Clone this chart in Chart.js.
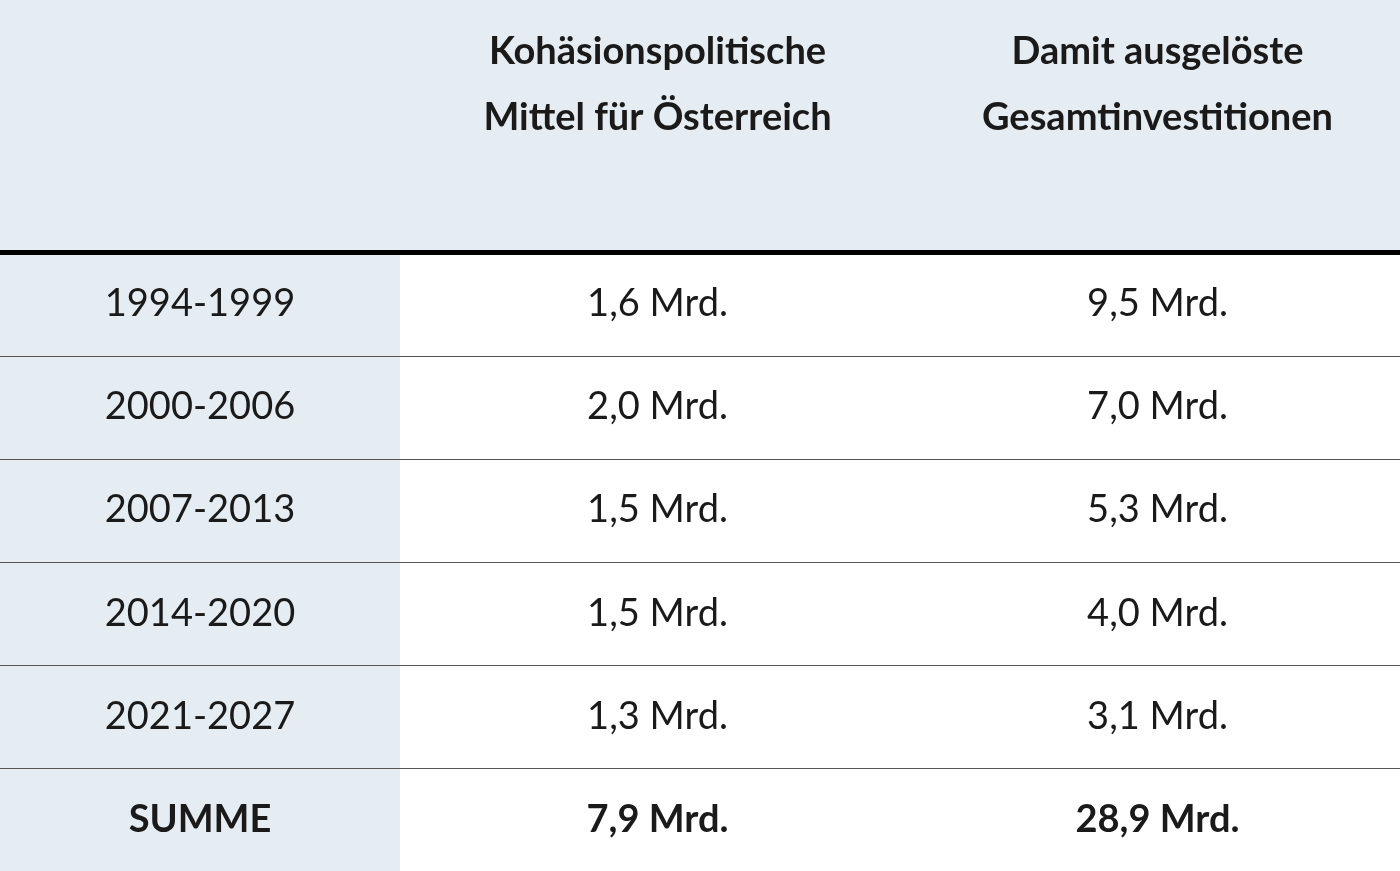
<!DOCTYPE html>
<html><head><meta charset="utf-8">
<script src="https://cdn.jsdelivr.net/npm/chart.js@4"></script>
<style>html,body{margin:0;padding:0;background:#fff}#wrap{width:1400px;height:871px}</style>
</head><body><div id="wrap"><canvas id="c"></canvas></div>
<script>
// table content
var headers = [["Kohäsionspolitische", "Mittel für Österreich"], ["Damit ausgelöste", "Gesamtinvestitionen"]];
var periods = ["1994-1999", "2000-2006", "2007-2013", "2014-2020", "2021-2027", "SUMME"];
var funds = ["1,6 Mrd.", "2,0 Mrd.", "1,5 Mrd.", "1,5 Mrd.", "1,3 Mrd.", "7,9 Mrd."];
var investments = ["9,5 Mrd.", "7,0 Mrd.", "5,3 Mrd.", "4,0 Mrd.", "3,1 Mrd.", "28,9 Mrd."];

// column edges and header height in scale units
var colEdges = [0, 0.8, 1.83, 2.8];
var headerRows = 2.45;

var font = "Lato, 'Open Sans', sans-serif";

var tablePlugin = {
  id: "table",
  beforeDraw: function(chart) {
    var ctx = chart.ctx, x = chart.scales.x, y = chart.scales.y;
    var px = function(v){ return x.getPixelForValue(v); };
    var py = function(v){ return y.getPixelForValue(v); };
    var total = headerRows + periods.length;
    ctx.save();
    ctx.fillStyle = "#e5edf2";
    ctx.fillRect(px(0), py(0), px(colEdges[3]) - px(0), py(headerRows) - py(0));
    ctx.fillRect(px(0), py(headerRows), px(colEdges[1]) - px(0), py(total) - py(headerRows));

    ctx.fillStyle = "#1a1a1a";
    ctx.textAlign = "center";
    ctx.textBaseline = "middle";
    ctx.font = "bold 38px " + font;
    headers.forEach(function(h, i){
      var cx = (px(colEdges[i+1]) + px(colEdges[i+2])) / 2;
      ctx.fillText(h[0], cx, py(0.5));
      ctx.fillText(h[1], cx, py(1.14));
    });

    periods.forEach(function(p, i){
      var cy = py(headerRows + i + 0.5);
      var bold = i === periods.length - 1;
      ctx.font = (bold ? "bold " : "") + "38px " + font;
      [p, funds[i], investments[i]].forEach(function(t, j){
        ctx.fillText(t, (px(colEdges[j]) + px(colEdges[j+1])) / 2, cy);
      });
      if (i > 0) {
        ctx.strokeStyle = "#555";
        ctx.lineWidth = 1;
        ctx.beginPath();
        ctx.moveTo(px(0), Math.round(py(headerRows + i)) + 0.5);
        ctx.lineTo(px(colEdges[3]), Math.round(py(headerRows + i)) + 0.5);
        ctx.stroke();
      }
    });

    ctx.strokeStyle = "#000";
    ctx.lineWidth = 5;
    ctx.beginPath();
    ctx.moveTo(px(0), py(headerRows));
    ctx.lineTo(px(colEdges[3]), py(headerRows));
    ctx.stroke();
    ctx.restore();
  }
};

new Chart(document.getElementById("c"), {
  type: "scatter",
  data: { datasets: [{ data: [] }] },
  options: {
    responsive: true,
    maintainAspectRatio: false,
    animation: false,
    layout: { padding: 0 },
    plugins: { legend: { display: false }, tooltip: { enabled: false } },
    scales: {
      x: { type: "linear", min: 0, max: colEdges[3], display: false },
      y: { type: "linear", min: 0, max: headerRows + periods.length, reverse: true, display: false }
    }
  },
  plugins: [tablePlugin]
});
</script></body></html>
